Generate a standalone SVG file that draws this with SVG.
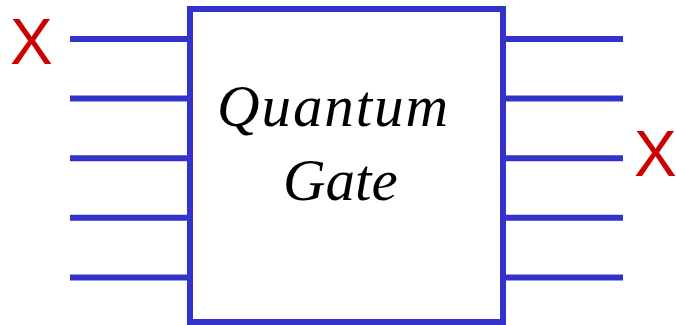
<svg xmlns="http://www.w3.org/2000/svg" width="676" height="325" viewBox="0 0 676 325">
<style>
.w{stroke:#3333cc;stroke-width:6;fill:none}
.x{font-family:"Liberation Sans",Arial,sans-serif;font-size:64px;fill:#cc0000}
.t{font-family:"Liberation Serif","Times New Roman",serif;font-style:italic;font-size:59px;fill:#000}
</style>
<rect width="676" height="325" fill="#fff"/>
<g id="wires" class="w">
<path d="M70 39H190M70 98.6H190M70 158.2H190M70 217.8H190M70 277.5H190"/>
<path d="M503 39H623M503 98.6H623M503 158.2H623M503 217.8H623M503 277.5H623"/>
</g>
<g id="gate">
<rect class="w" x="190" y="9" width="313" height="313"/>
<text class="t" x="217" y="126" textLength="231">Quantum</text>
<text class="t" x="283" y="200">Gate</text>
</g>
<g id="labels">
<text class="x" x="10" y="64">X</text>
<text class="x" x="634" y="176">X</text>
</g>
</svg>
